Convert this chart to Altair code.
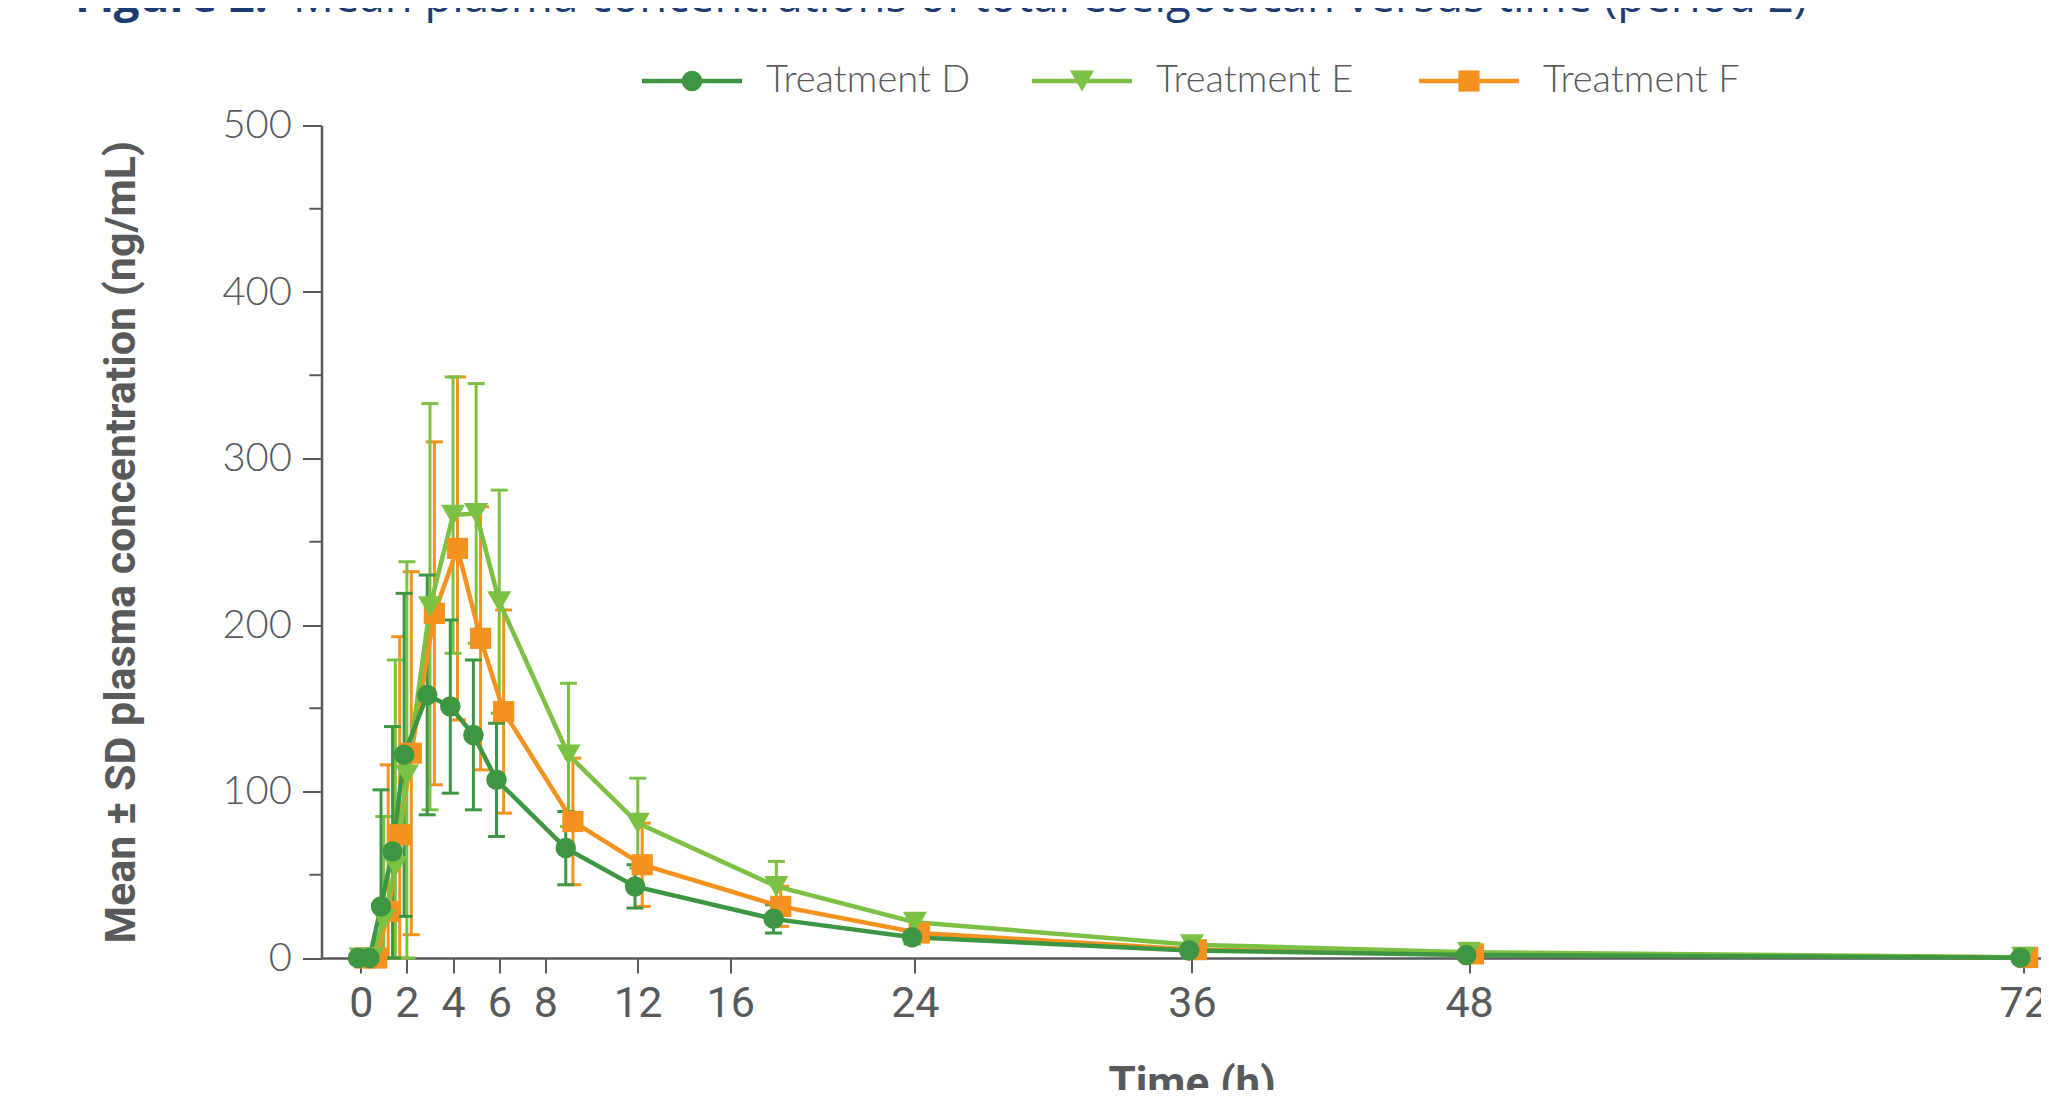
import altair as alt
import pandas as pd

# ---------------- data ----------------
times = [0, 0.5, 1, 1.5, 2, 3, 4, 5, 6, 9, 12, 18, 24, 36, 48, 72]
series_names = ["Treatment D", "Treatment E", "Treatment F"]
mean_d = [0, 0, 31, 64, 122, 158, 151, 134, 107, 66, 43, 23.5, 12.5, 4.5, 1.8, 0.2]
sd_d = [0, 0, 70, 75, 97, 72, 52, 45, 34, 22, 13, 8.5, 4, 1.5, 0.8, 0.1]
mean_e = [0, 0, 23, 55, 110, 211, 266, 267, 214, 122, 81, 43, 21.5, 8, 3.5, 0.5]
sd_e = [0, 0, 62, 124, 128, 122, 83, 78, 67, 43, 27, 15, 5, 2, 1, 0.2]
mean_f = [0, 0, 28, 74, 123, 207, 246, 192, 148, 82, 56, 31, 15, 5, 2.5, 0.3]
sd_f = [0, 0, 88, 119, 109, 103, 103, 79, 61, 38, 25, 12, 4, 1.5, 1, 0.2]
x_ticks = [0, 2, 4, 6, 8, 12, 16, 24, 36, 48, 72]
y_ticks = [0, 100, 200, 300, 400, 500]
y_minor = [50, 150, 250, 350, 450]
title_bold = "Figure 2."
title_rest = "Mean plasma concentrations of total eselgotecan versus time (period 2)"
x_title = "Time (h)"
y_title = "Mean \u00b1 SD plasma concentration (ng/mL)"

# ---------------- styles ----------------
colors = {"Treatment D": "#3e9642", "Treatment E": "#7cc143", "Treatment F": "#f5921f"}
shapes = {"Treatment D": "circle", "Treatment E": "triangle-down", "Treatment F": "square"}
sizes = {"Treatment D": 420, "Treatment E": 580, "Treatment F": 450}
offsets = {"Treatment D": -0.12, "Treatment E": 0.0, "Treatment F": 0.19}
AX = "#58595b"
TXT = "#58595b"
NARROW = "Liberation Sans Narrow, Arial Narrow, Roboto, sans-serif"

rows = []
for name, means, sds in zip(series_names, [mean_d, mean_e, mean_f], [sd_d, sd_e, sd_f]):
    for t, m, s in zip(times, means, sds):
        rows.append({"series": name, "time": t, "mean": m, "sd": s})
df = pd.DataFrame(rows)

W, H = 1719.5, 832.5
xscale = alt.Scale(domain=[-1.698, 72.77], nice=False, zero=False)
yscale = alt.Scale(domain=[0, 500], nice=False, zero=True)

xaxis = alt.Axis(values=x_ticks, title=x_title, grid=False, format="d",
                 domainColor=AX, domainWidth=2.5, tickColor=AX, tickWidth=2, tickSize=15,
                 labelFont=NARROW, labelFontSize=43, labelColor=TXT,
                 labelPadding=9, labelFlush=False, labelOverlap=False,
                 titleFont=NARROW, titleFontSize=44, titleFontWeight="bold",
                 titleColor=TXT, titleX=870, titleY=104, titleBaseline="top", titleAlign="center")
yaxis = alt.Axis(values=y_ticks, title=y_title, grid=False, format="d",
                 domainColor=AX, domainWidth=2.5, tickColor=AX, tickWidth=2, tickSize=19,
                 labelFont="Lato, sans-serif", labelFontWeight=300, labelFontSize=40, labelColor=TXT,
                 labelPadding=11, labelFlush=False,
                 titleFont=NARROW, titleFontSize=43, titleFontWeight="bold",
                 titleColor=TXT, titleAngle=270, titleX=-200, titleY=H / 2,
                 titleAlign="center", titleBaseline="middle")

base = alt.Chart(df).transform_calculate(
    lower="max(0, datum.mean - datum.sd)",
    upper="datum.mean + datum.sd",
)

def filt(name):
    return base.transform_filter(alt.datum.series == name).transform_calculate(
        tp="datum.time + " + str(offsets[name])
    )

X = alt.X("tp:Q", scale=xscale, axis=xaxis)

err_layers, line_layers, pt_layers = [], [], []
for name in ["Treatment F", "Treatment E", "Treatment D"]:
    c = colors[name]
    s = filt(name)
    err_layers.append(s.mark_rule(color=c, strokeWidth=3).encode(
        x=X, y=alt.Y("lower:Q", scale=yscale, axis=yaxis), y2="upper:Q"))
    err_layers.append(s.mark_tick(color=c, orient="horizontal", size=17, thickness=3, opacity=1).encode(
        x=X, y=alt.Y("upper:Q", scale=yscale, axis=yaxis)))
    err_layers.append(s.mark_tick(color=c, orient="horizontal", size=17, thickness=3, opacity=1).encode(
        x=X, y=alt.Y("lower:Q", scale=yscale, axis=yaxis)))
    line_layers.append(s.mark_line(color=c, strokeWidth=4.5).encode(
        x=X, y=alt.Y("mean:Q", scale=yscale, axis=yaxis)))
    pt_layers.append(s.mark_point(color=c, shape=shapes[name], size=sizes[name], filled=True,
                                  opacity=1, strokeWidth=0).encode(
        x=X, y=alt.Y("mean:Q", scale=yscale, axis=yaxis)))

# minor y ticks
minor = alt.Chart(pd.DataFrame({"v": y_minor})).mark_rule(color=AX, strokeWidth=2).encode(
    y=alt.Y("v:Q", scale=yscale, axis=yaxis), x=alt.value(0), x2=alt.value(-12))

# custom legend
one = alt.Chart(pd.DataFrame({"a": [0]}))
leg_y = -44.5
leg_pos = {"Treatment D": 320.5, "Treatment E": 710.5, "Treatment F": 1097.5}
legend_layers = []
for name in series_names:
    x0 = leg_pos[name]
    c = colors[name]
    legend_layers.append(one.mark_rule(color=c, strokeWidth=4.5).encode(
        x=alt.value(x0), x2=alt.value(x0 + 100), y=alt.value(leg_y)))
    legend_layers.append(one.mark_point(color=c, shape=shapes[name], size=sizes[name], filled=True,
                                        opacity=1, strokeWidth=0).encode(
        x=alt.value(x0 + 50), y=alt.value(leg_y)))
    legend_layers.append(one.mark_text(align="left", baseline="middle", font="Lato, sans-serif",
                                       fontWeight=300, fontSize=38, color=TXT).encode(
        x=alt.value(x0 + 124), y=alt.value(leg_y), text=alt.value(name)))

title_layer1 = one.mark_text(align="left", baseline="alphabetic", font="Open Sans, sans-serif",
                             fontSize=45.5, fontWeight="bold", color="#1d3c72").encode(
    x=alt.value(-246.5), y=alt.value(-113.5), text=alt.value(title_bold))
title_layer2 = one.mark_text(align="left", baseline="alphabetic", font="Open Sans, sans-serif",
                             fontSize=45.5, color="#1d3c72").encode(
    x=alt.value(-246.5 + 218), y=alt.value(-113.5), text=alt.value(title_rest))

chart = alt.layer(
    minor, *err_layers, *line_layers, *pt_layers, *legend_layers, title_layer1, title_layer2
).properties(
    width=W, height=H,
    padding={"left": 313.5, "top": 117.5, "right": 0, "bottom": 132},
    autosize=alt.AutoSizeParams(type="none"),
    background="white",
).configure_view(strokeWidth=0, stroke="transparent")

chart.save("out.html", embed_options={"renderer": "svg", "actions": False})
